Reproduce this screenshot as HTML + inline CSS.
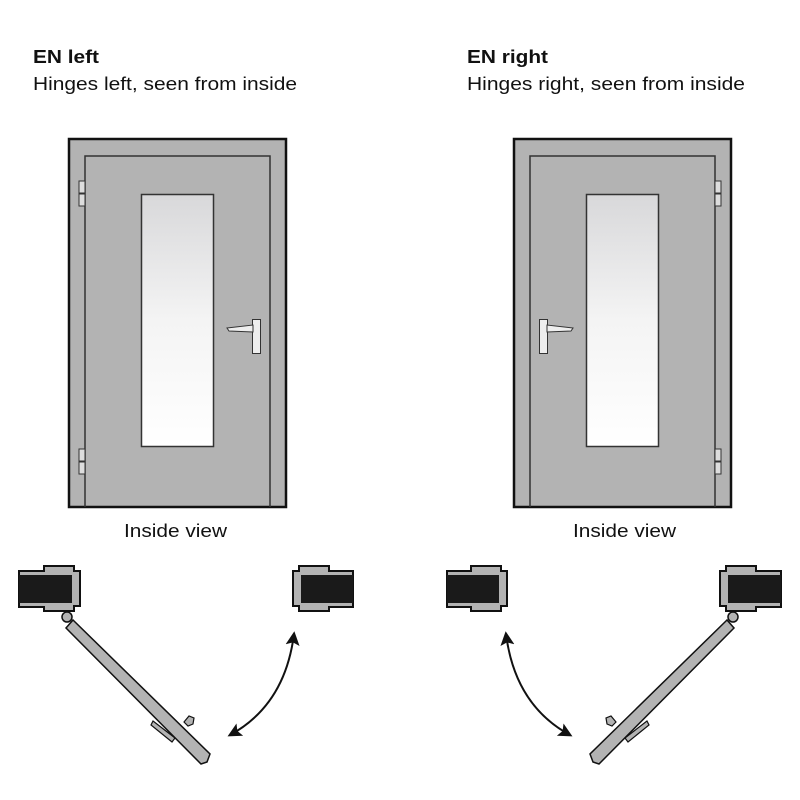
<!DOCTYPE html>
<html><head><style>
body{margin:0;background:#fff;width:800px;height:800px;overflow:hidden}
svg{display:block}
text{font-family:"Liberation Sans",sans-serif;fill:#111}
</style></head><body>
<svg width="800" height="800" viewBox="0 0 800 800">
<defs>
<linearGradient id="g" x1="0" y1="0" x2="0" y2="1">
<stop offset="0" stop-color="#d8d8da"/><stop offset="0.5" stop-color="#f4f4f4"/><stop offset="1" stop-color="#fff"/>
</linearGradient>
<marker id="ah" viewBox="0 0 10 10" refX="8" refY="5" markerWidth="7" markerHeight="7" orient="auto-start-reverse">
<path d="M0,0 L10,5 L0,10 L2,5 z" fill="#111"/>
</marker>
<g id="door">
<rect x="69" y="139" width="217" height="368" fill="#b3b3b3" stroke="#111" stroke-width="2.5"/>
<path d="M85,507 V156 H270 V507" fill="none" stroke="#333" stroke-width="1.5"/>
<rect x="141.5" y="194.5" width="72" height="252" fill="url(#g)" stroke="#333" stroke-width="1.5"/>
<rect x="79" y="181" width="6" height="12" fill="#ddd" stroke="#333"/>
<rect x="79" y="194" width="6" height="12" fill="#ddd" stroke="#333"/>
<rect x="79" y="449" width="6" height="12" fill="#ddd" stroke="#333"/>
<rect x="79" y="462" width="6" height="12" fill="#ddd" stroke="#333"/>
<rect x="252.5" y="319.5" width="8" height="34" fill="#eee" stroke="#333"/>
<path d="M227,328 L253,325 L253,332 L229,331 z" fill="#eee" stroke="#333"/>
</g>
<g id="plan">
<path d="M19,571 H44 V566 H74 V571 H80 V606 H74 V611 H44 V607 H19 z" fill="#b3b3b3" stroke="#111" stroke-width="2"/>
<rect x="19" y="575" width="53" height="28" fill="#1a1a1a"/>
<path d="M293,571 H299 V566 H329 V571 H353 V607 H329 V611 H299 V606 H293 z" fill="#b3b3b3" stroke="#111" stroke-width="2"/>
<rect x="301" y="575" width="52" height="28" fill="#1a1a1a"/>
<circle cx="67" cy="617" r="5" fill="#b3b3b3" stroke="#111" stroke-width="1.5"/>
<path d="M73,620 L210,754 L207,762 L201,764 L66,628 z" fill="#b3b3b3" stroke="#111" stroke-width="1.5"/>
<path d="M153,721 L175,738 L172,742 L151,725 z" fill="#b3b3b3" stroke="#111" stroke-width="1.2"/>
<path d="M184,722 L189,716 L194,718 L193,724 L188,726 z" fill="#b3b3b3" stroke="#111" stroke-width="1.2"/>
<path d="M294,634 Q285,705 230,735" fill="none" stroke="#111" stroke-width="2" marker-start="url(#ah)" marker-end="url(#ah)"/>
</g>
</defs>
<text x="33" y="63" font-size="18" font-weight="bold" textLength="66" lengthAdjust="spacingAndGlyphs">EN left</text>
<text x="33" y="90" font-size="18" textLength="264" lengthAdjust="spacingAndGlyphs">Hinges left, seen from inside</text>
<text x="467" y="63" font-size="18" font-weight="bold" textLength="81" lengthAdjust="spacingAndGlyphs">EN right</text>
<text x="467" y="90" font-size="18" textLength="278" lengthAdjust="spacingAndGlyphs">Hinges right, seen from inside</text>
<use href="#door"/>
<use href="#door" transform="translate(800,0) scale(-1,1)"/>
<text x="124" y="537" font-size="18" textLength="103" lengthAdjust="spacingAndGlyphs">Inside view</text>
<text x="573" y="537" font-size="18" textLength="103" lengthAdjust="spacingAndGlyphs">Inside view</text>
<use href="#plan"/>
<use href="#plan" transform="translate(800,0) scale(-1,1)"/>
</svg>
</body></html>
